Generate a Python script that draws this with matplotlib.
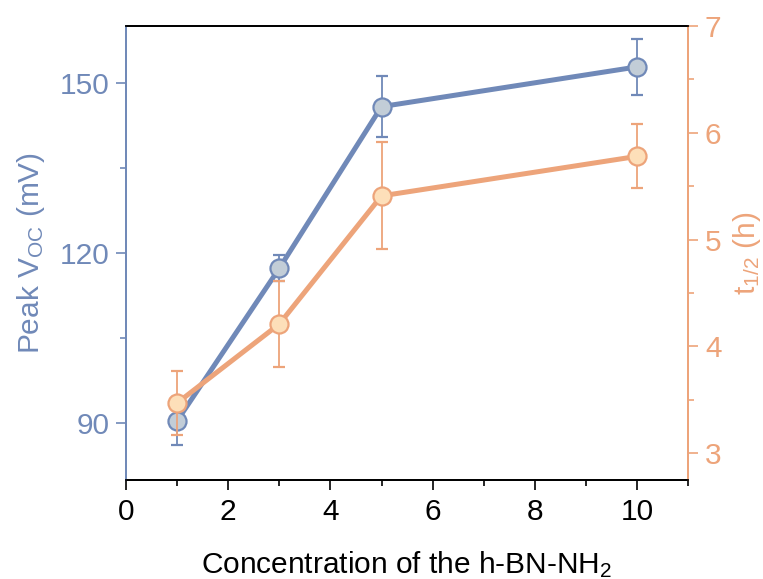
import numpy as np
import matplotlib.pyplot as plt
from matplotlib.ticker import MultipleLocator

plt.rcParams['font.family'] = ['Liberation Sans', 'DejaVu Sans']
plt.rcParams['mathtext.fontset'] = 'custom'
plt.rcParams['mathtext.rm'] = 'Liberation Sans'
plt.rcParams['mathtext.it'] = 'Liberation Sans:italic'

conc = [1, 3, 5, 10]
voc = [90.4, 117.3, 145.8, 152.8]
voc_err = [4.3, 2.3, 5.4, 4.9]
t_half = [3.47, 4.21, 5.41, 5.78]
t_half_err = [0.30, 0.40, 0.50, 0.30]

blue = '#7089B8'
blue_face = '#C2CDD7'
orange = '#EDA47A'
orange_face = '#FDDFB9'

fig = plt.figure(figsize=(7.63, 5.79), dpi=100)
ax = fig.add_axes([0.165, 0.171, 0.737, 0.784])
ax2 = ax.twinx()

ax.errorbar(conc, voc, yerr=voc_err, color=blue, lw=3.6, marker='o', ms=13,
            mfc=blue_face, mec=blue, mew=1.6, elinewidth=1.3, capsize=4, capthick=1.3)
ax2.errorbar(conc, t_half, yerr=t_half_err, color=orange, lw=3.6, marker='o', ms=13,
             mfc=orange_face, mec=orange, mew=1.6, elinewidth=1.3, capsize=4, capthick=1.3)

ax.set_xlim(0, 11)
ax.set_ylim(80, 160)
ax2.set_ylim(2.75, 7)

ax.xaxis.set_major_locator(MultipleLocator(2))
ax.xaxis.set_minor_locator(MultipleLocator(1))
ax.yaxis.set_major_locator(MultipleLocator(30))
ax.yaxis.set_minor_locator(MultipleLocator(15))
ax2.yaxis.set_major_locator(MultipleLocator(1))
ax2.yaxis.set_minor_locator(MultipleLocator(0.5))

fs = 21.5
ax.tick_params(axis='x', which='both', direction='out', labelsize=fs, pad=6, width=1.2)
ax.tick_params(axis='x', which='major', length=7)
ax.tick_params(axis='x', which='minor', length=4)
ax.tick_params(axis='y', which='both', direction='out', colors=blue, labelsize=fs, pad=5, width=1.2)
ax.tick_params(axis='y', which='major', length=7)
ax.tick_params(axis='y', which='minor', length=4)
ax2.tick_params(axis='y', which='both', direction='out', colors=orange, labelsize=fs, pad=5, width=1.2)
ax2.tick_params(axis='y', which='major', length=7)
ax2.tick_params(axis='y', which='minor', length=4)

for a in (ax, ax2):
    a.spines['top'].set_linewidth(1.3)
    a.spines['bottom'].set_linewidth(1.3)
    a.spines['left'].set_color(blue)
    a.spines['left'].set_linewidth(1.3)
    a.spines['right'].set_color(orange)
    a.spines['right'].set_linewidth(1.3)

ax.set_xlabel(r'Concentration of the h-BN-NH$_2$', fontsize=fs, labelpad=17)
ax.set_ylabel(r'Peak V$_{\mathrm{OC}}$ (mV)', fontsize=fs, color=blue, labelpad=9)
ax2.set_ylabel(r't$_{1/2}$ (h)', fontsize=fs, color=orange, labelpad=7)

fig.savefig('out.png', dpi=100)
